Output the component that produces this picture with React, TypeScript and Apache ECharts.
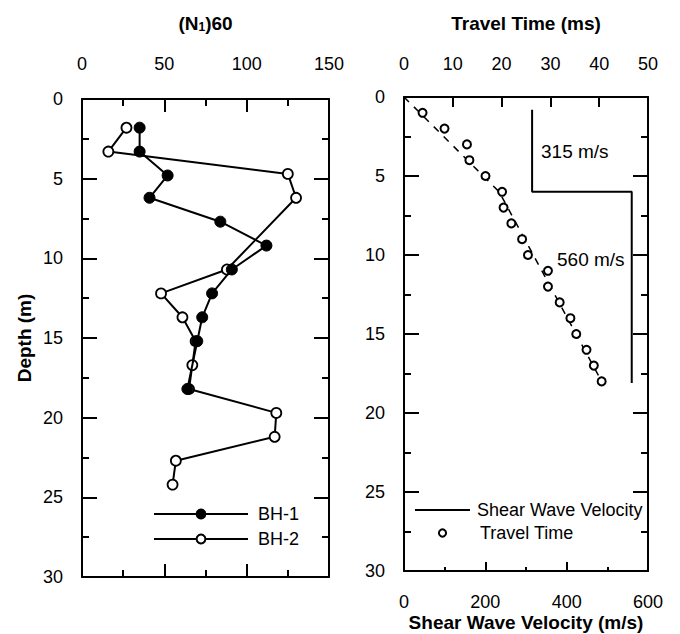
import React, { useEffect, useRef } from "react";
import * as echarts from "echarts";

// ---- Data ----
const bh1Depth = [1.8, 3.3, 4.8, 6.2, 7.7, 9.2, 10.7, 12.2, 13.7, 15.2, 18.2];
const bh1N60 = [35, 35, 52, 41, 84, 112, 91, 79, 73, 70, 64];

const bh2Depth = [1.8, 3.3, 4.7, 6.2, 10.7, 12.2, 13.7, 15.2, 16.7, 18.2, 19.7, 21.2, 22.7, 24.2];
const bh2N60 = [27, 16, 125, 130, 88, 48, 61, 69, 67, 65, 118, 117, 57, 55];

const ttDepth = [1, 2, 3, 4, 5, 6, 7, 8, 9, 10, 11, 12, 13, 14, 15, 16, 17, 18];
const ttTime = [3.8, 8.3, 12.9, 13.4, 16.7, 20.1, 20.4, 22.0, 24.2, 25.4, 29.5, 29.5, 31.9, 34.1, 35.3, 37.4, 38.9, 40.5];

const fitDepth = [0, 6, 18];
const fitTime = [0, 19.5, 40.5];

const vsDepth = [0.8, 6, 6, 18.1];
const vsValue = [315, 315, 560, 560];

const velocityNotes = ["315 m/s", "560 m/s"];

const FONT = "'Liberation Sans', Arial, Helvetica, sans-serif";

export default function App() {
  const ref = useRef<HTMLDivElement>(null);

  useEffect(() => {
    if (!ref.current) return;
    const chart = echarts.init(ref.current, undefined, { renderer: "svg" });

    const tickLabel = { color: "#000", fontSize: 18, fontFamily: FONT };
    const nameStyle = { color: "#000", fontSize: 19, fontWeight: "bold" as const, fontFamily: FONT };
    const axLine = { show: true, onZero: false, lineStyle: { color: "#000", width: 2 } };
    const black = { color: "#000", width: 2 };

    const option: any = {
      animation: false,
      backgroundColor: "#fff",
      grid: [
        { left: 82, top: 99, width: 247, height: 478, outerBoundsMode: "none", containLabel: false },
        { left: 404, top: 97, width: 244, height: 474, outerBoundsMode: "none", containLabel: false },
      ],
      xAxis: [
        {
          gridIndex: 0, type: "value", position: "top", min: 0, max: 150, interval: 50,
          axisLine: axLine, splitLine: { show: false },
          axisTick: { inside: true, length: 13, lineStyle: black },
          minorTick: { show: true, splitNumber: 2, length: 7, lineStyle: black },
          axisLabel: { ...tickLabel, margin: 26 },
          name: "(N{sub|1})60", nameLocation: "middle", nameGap: 66,
          nameTextStyle: { ...nameStyle, rich: { sub: { fontSize: 12, fontWeight: "bold", fontFamily: FONT, color: "#000", verticalAlign: "bottom", padding: [6, 0, 0, 0] } } },
        },
        {
          gridIndex: 0, type: "value", position: "bottom", min: 0, max: 150, interval: 50,
          axisLine: axLine, splitLine: { show: false },
          axisTick: { inside: true, length: 13, lineStyle: black },
          minorTick: { show: true, splitNumber: 2, length: 7, lineStyle: black },
          axisLabel: { show: false },
        },
        {
          gridIndex: 1, type: "value", position: "top", min: 0, max: 50, interval: 10,
          axisLine: axLine, splitLine: { show: false },
          axisTick: { inside: true, length: 10, lineStyle: black },
          axisLabel: { ...tickLabel, margin: 24 },
          name: "Travel Time (ms)", nameLocation: "middle", nameGap: 64,
          nameTextStyle: nameStyle,
        },
        {
          gridIndex: 1, type: "value", position: "bottom", min: 0, max: 600, interval: 200,
          axisLine: axLine, splitLine: { show: false },
          axisTick: { inside: true, length: 9, lineStyle: black },
          minorTick: { show: true, splitNumber: 2, length: 4, lineStyle: black },
          axisLabel: { ...tickLabel, lineHeight: 19, margin: 21 },
          name: "Shear Wave Velocity (m/s)", nameLocation: "middle", nameGap: 41, nameMoveOverlap: false,
          nameTextStyle: { ...nameStyle, lineHeight: 20 },
        },
      ],
      yAxis: [
        {
          gridIndex: 0, type: "value", position: "left", min: 0, max: 30, interval: 5, inverse: true,
          axisLine: axLine, splitLine: { show: false },
          axisTick: { inside: true, length: 15, lineStyle: black },
          minorTick: { show: true, splitNumber: 2, length: 7, lineStyle: black },
          axisLabel: { ...tickLabel, margin: 19 },
          name: "Depth (m)", nameLocation: "middle", nameGap: 48,
          nameTextStyle: nameStyle,
        },
        {
          gridIndex: 0, type: "value", position: "right", min: 0, max: 30, interval: 5, inverse: true,
          axisLine: axLine, splitLine: { show: false },
          axisTick: { inside: true, length: 15, lineStyle: black },
          minorTick: { show: true, splitNumber: 2, length: 7, lineStyle: black },
          axisLabel: { show: false },
        },
        {
          gridIndex: 1, type: "value", position: "left", min: 0, max: 30, interval: 5, inverse: true,
          axisLine: axLine, splitLine: { show: false },
          axisTick: { inside: true, length: 15, lineStyle: black },
          minorTick: { show: true, splitNumber: 2, length: 7, lineStyle: black },
          axisLabel: { ...tickLabel, margin: 19 },
        },
        {
          gridIndex: 1, type: "value", position: "right", min: 0, max: 30, interval: 5, inverse: true,
          axisLine: axLine, splitLine: { show: false },
          axisTick: { inside: true, length: 15, lineStyle: black },
          minorTick: { show: true, splitNumber: 2, length: 7, lineStyle: black },
          axisLabel: { show: false },
        },
      ],
      legend: [
        {
          left: 153, top: 505, padding: 0, orient: "vertical", itemWidth: 94, itemHeight: 11, itemGap: 7,
          data: ["BH-1", "BH-2"],
          textStyle: { color: "#000", fontSize: 18, fontFamily: FONT, padding: [0, 0, 0, 5] },
        },
        {
          left: 415, top: 501, padding: 0, orient: "vertical", itemWidth: 55, itemHeight: 2,
          data: [{ name: "Shear Wave Velocity", icon: "rect" }],
          itemStyle: { color: "#000" },
          textStyle: { color: "#000", fontSize: 18, fontFamily: FONT, padding: [0, 0, 0, 2] },
        },
        {
          left: 415, top: 524, padding: 0, orient: "vertical", itemWidth: 55, itemHeight: 9,
          data: ["Travel Time"],
          textStyle: { color: "#000", fontSize: 18, fontFamily: FONT, padding: [0, 0, 0, 5] },
        },
      ],
      series: [
        {
          name: "BH-1", type: "line", xAxisIndex: 0, yAxisIndex: 0,
          data: bh1Depth.map((d, i) => [bh1N60[i], d]),
          symbol: "circle", symbolSize: 11,
          lineStyle: { color: "#000", width: 2 },
          itemStyle: { color: "#000", borderColor: "#000", borderWidth: 1 },
          z: 3,
        },
        {
          name: "BH-2", type: "line", xAxisIndex: 0, yAxisIndex: 0,
          data: bh2Depth.map((d, i) => [bh2N60[i], d]),
          symbol: "circle", symbolSize: 10,
          lineStyle: { color: "#000", width: 2 },
          itemStyle: { color: "#fff", borderColor: "#000", borderWidth: 1.8 },
          z: 2,
        },
        {
          name: "fit", type: "line", xAxisIndex: 2, yAxisIndex: 2,
          data: fitDepth.map((d, i) => [fitTime[i], d]),
          symbol: "none",
          lineStyle: { color: "#000", width: 1.5, type: [7, 7] },
          z: 1,
        },
        {
          name: "Travel Time", type: "line", xAxisIndex: 2, yAxisIndex: 2,
          data: ttDepth.map((d, i) => [ttTime[i], d]),
          symbol: "circle", symbolSize: 8,
          lineStyle: { color: "#000", width: 0, opacity: 0 },
          itemStyle: { color: "#fff", borderColor: "#000", borderWidth: 2 },
          z: 3,
        },
        {
          name: "Shear Wave Velocity", type: "line", xAxisIndex: 3, yAxisIndex: 2,
          data: vsDepth.map((d, i) => [vsValue[i], d]),
          symbol: "none",
          lineStyle: { color: "#000", width: 2 },
          itemStyle: { color: "#000" },
          z: 2,
        },
      ],
      graphic: [
        { type: "text", left: 541, top: 142, style: { text: velocityNotes[0], fill: "#000", fontSize: 19, fontFamily: FONT } },
        { type: "text", left: 557, top: 250, style: { text: velocityNotes[1], fill: "#000", fontSize: 19, fontFamily: FONT, backgroundColor: "#fff" } },
      ],
    };

    chart.setOption(option);
    return () => chart.dispose();
  }, []);

  return <div ref={ref} style={{ position: "fixed", left: 0, top: 0, width: 680, height: 634 }} />;
}
